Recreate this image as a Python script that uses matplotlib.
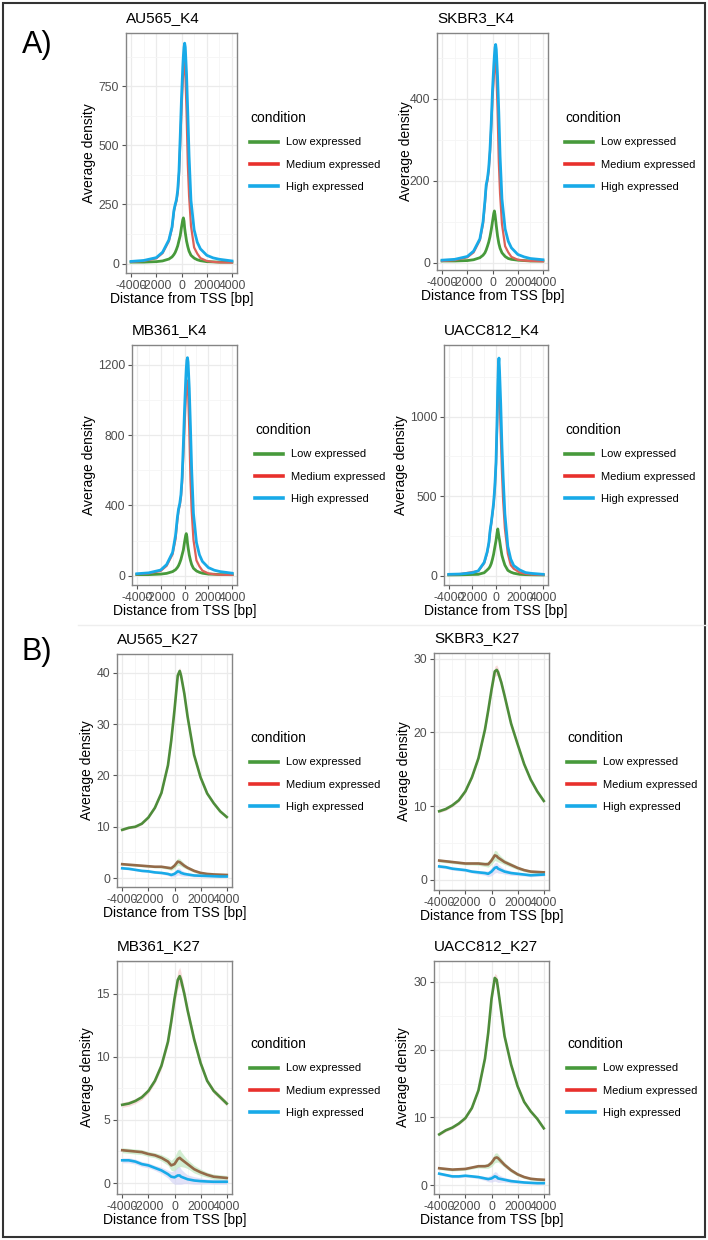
import matplotlib.pyplot as plt
from matplotlib.lines import Line2D
from matplotlib.patches import Rectangle

plt.rcParams['font.family'] = ['Liberation Sans', 'DejaVu Sans']
plt.rcParams['axes.unicode_minus'] = False

W, H = 708, 1240

# ---- H3K4 profiles (Average density vs distance from TSS) ----
x_k4 = [-4000, -3000, -2000, -1500, -1000, -750, -600, -500, -400, -300, -200, -100, 0,
        100, 150, 200, 250, 300, 400, 500, 600, 750, 1000, 1250, 1500, 2000, 2500, 3000, 4000]

au565_k4_low = [6, 6, 8, 11, 19, 28, 38, 47, 60, 75, 97, 118, 154,
                185, 193, 180, 150, 130, 95, 71, 52, 35, 23, 16, 12, 8, 7, 6, 6]
au565_k4_med = [7, 11, 22, 44, 95, 150, 220, 245, 265, 300, 375, 510, 650,
                770, 820, 850, 858, 810, 645, 420, 287, 160, 68, 42, 23, 11, 7, 5, 4]
au565_k4_high = [9, 13, 25, 48, 100, 155, 225, 250, 270, 310, 390, 540, 700,
                 830, 880, 915, 932, 915, 800, 635, 455, 267, 143, 90, 62, 35, 24, 18, 11]

skbr3_k4_low = [4, 4, 5, 7, 12, 18, 24, 31, 40, 50, 63, 80, 100,
                120, 126, 117, 104, 90, 65, 47, 35, 24, 15, 10, 8, 6, 5, 4, 4]
skbr3_k4_med = [4, 6, 13, 25, 55, 95, 145, 185, 200, 225, 268, 330, 400,
                450, 475, 495, 497, 470, 375, 245, 168, 94, 40, 25, 14, 7, 5, 4, 3]
skbr3_k4_high = [6, 8, 15, 28, 58, 100, 150, 190, 205, 230, 275, 340, 420,
                 480, 505, 525, 532, 520, 455, 365, 260, 155, 82, 52, 36, 20, 14, 10, 7]

mb361_k4_low = [7, 7, 10, 14, 24, 35, 47, 58, 74, 93, 120, 146, 190,
                230, 240, 223, 186, 161, 118, 88, 64, 43, 28, 20, 15, 10, 9, 7, 7]
mb361_k4_med = [9, 14, 28, 57, 123, 210, 315, 370, 400, 445, 530, 680, 850,
                1000, 1060, 1100, 1110, 1050, 835, 545, 370, 205, 88, 54, 30, 14, 9, 6, 5]
mb361_k4_high = [12, 17, 33, 64, 133, 230, 330, 380, 410, 460, 560, 740, 940,
                 1110, 1180, 1225, 1240, 1215, 1065, 845, 605, 355, 190, 120, 82, 47, 32, 24, 15]

uacc812_k4_low = [6, 7, 9, 10, 20, 37, 48, 60, 78, 105, 137, 180, 221,
                  275, 295, 270, 245, 225, 175, 130, 103, 68, 35, 24, 17, 10, 8, 7, 6]
uacc812_k4_med = [8, 12, 24, 30, 80, 145, 205, 280, 330, 390, 450, 550, 700,
                  950, 1100, 1240, 1274, 1140, 890, 660, 480, 300, 140, 68, 45, 22, 13, 9, 6]
uacc812_k4_high = [10, 12, 20, 32, 85, 150, 210, 285, 335, 395, 460, 560, 710,
                   1010, 1190, 1320, 1368, 1290, 1080, 820, 630, 390, 185, 105, 65, 38, 21, 16, 10]

# ---- H3K27 profiles ----
x_k27 = [-4000, -3500, -3000, -2500, -2000, -1500, -1000, -500, -250, 0, 250, 400, 500,
         750, 1000, 1500, 2000, 2500, 3000, 3500, 4000]
se_k27 = [0.2, 0.2, 0.2, 0.2, 0.2, 0.2, 0.25, 0.3, 0.4, 0.55, 0.7, 0.7, 0.6,
          0.45, 0.35, 0.3, 0.25, 0.2, 0.2, 0.2, 0.2]

au565_k27_low = [9.4, 9.8, 10.0, 10.6, 11.8, 13.7, 16.6, 22.0, 26.8, 32.8, 39.5, 40.4, 39.5,
                 36.0, 31.5, 24.0, 19.6, 16.5, 14.6, 13.0, 11.9]
au565_k27_med = [2.7, 2.6, 2.5, 2.4, 2.3, 2.2, 2.2, 2.0, 1.9, 2.4, 3.2, 3.1, 2.9,
                 2.4, 2.0, 1.4, 1.0, 0.8, 0.7, 0.65, 0.6]
au565_k27_high = [1.9, 1.8, 1.6, 1.4, 1.3, 1.1, 1.0, 0.8, 0.6, 0.8, 1.3, 1.2, 1.0,
                  0.8, 0.7, 0.5, 0.45, 0.4, 0.35, 0.3, 0.3]

skbr3_k27_low = [9.3, 9.6, 10.1, 10.8, 12.0, 13.9, 16.5, 20.4, 23.0, 25.8, 28.3, 28.5, 28.2,
                 26.8, 25.0, 21.2, 18.4, 15.7, 13.6, 12.0, 10.7]
skbr3_k27_med = [2.6, 2.5, 2.4, 2.3, 2.2, 2.2, 2.2, 2.1, 2.1, 2.6, 3.3, 3.2, 3.0,
                 2.7, 2.4, 2.0, 1.6, 1.3, 1.1, 1.05, 1.0]
skbr3_k27_high = [1.8, 1.7, 1.5, 1.4, 1.3, 1.1, 1.0, 0.9, 0.8, 1.1, 1.6, 1.7, 1.5,
                  1.3, 1.1, 0.9, 0.8, 0.7, 0.6, 0.65, 0.7]

mb361_k27_low = [6.2, 6.3, 6.5, 6.8, 7.3, 8.1, 9.3, 11.2, 12.8, 14.6, 16.1, 16.4, 16.1,
                 15.0, 13.7, 11.4, 9.5, 8.1, 7.3, 6.8, 6.3]
mb361_k27_med = [2.6, 2.55, 2.5, 2.45, 2.3, 2.2, 2.0, 1.7, 1.4, 1.5, 1.9, 2.0, 1.9,
                 1.7, 1.5, 1.1, 0.85, 0.65, 0.5, 0.45, 0.4]
mb361_k27_high = [1.8, 1.8, 1.7, 1.5, 1.4, 1.2, 1.0, 0.7, 0.5, 0.45, 0.6, 0.6, 0.5,
                  0.4, 0.3, 0.2, 0.15, 0.12, 0.1, 0.1, 0.1]

uacc812_k27_low = [7.5, 8.1, 8.5, 9.1, 9.9, 11.4, 14.0, 18.7, 22.5, 27.5, 30.6, 30.3, 29.0,
                   25.5, 22.0, 17.8, 14.6, 12.3, 10.9, 9.8, 8.4]
uacc812_k27_med = [2.5, 2.4, 2.3, 2.35, 2.4, 2.6, 2.8, 2.8, 2.9, 3.3, 4.0, 4.1, 4.0,
                   3.5, 3.0, 2.2, 1.6, 1.2, 0.95, 0.85, 0.8]
uacc812_k27_high = [1.7, 1.5, 1.3, 1.3, 1.4, 1.3, 1.2, 1.0, 0.9, 1.0, 1.3, 1.2, 1.0,
                    0.9, 0.8, 0.6, 0.5, 0.4, 0.35, 0.3, 0.3]

conditions = ['Low expressed', 'Medium expressed', 'High expressed']
c_low, c_med, c_high = '#479A3B', '#E8302C', '#18AAE8'
c_med_line = '#DC6259'
c_med27 = '#936A48'

# title, kind, x, low, med, high, box(px: x0,y0,x1,y1), ylim, yticks, ylabel x(px), legend(x,y px)
panels = [
    ('AU565_K4', 'k4', x_k4, au565_k4_low, au565_k4_med, au565_k4_high,
     (126, 33, 237, 273), (-40, 975), [0, 250, 500, 750], 90, (250, 111)),
    ('SKBR3_K4', 'k4', x_k4, skbr3_k4_low, skbr3_k4_med, skbr3_k4_high,
     (437, 33, 548, 270), (-18, 560), [0, 200, 400], 407, (565, 111)),
    ('MB361_K4', 'k4', x_k4, mb361_k4_low, mb361_k4_med, mb361_k4_high,
     (132, 345, 237, 585), (-52, 1312), [0, 400, 800, 1200], 90, (255, 423)),
    ('UACC812_K4', 'k4', x_k4, uacc812_k4_low, uacc812_k4_med, uacc812_k4_high,
     (444, 345, 548, 585), (-57, 1450), [0, 500, 1000], 402, (565, 423)),
    ('AU565_K27', 'k27', x_k27, au565_k27_low, au565_k27_med, au565_k27_high,
     (117, 654, 232, 887), (-1.75, 43.7), [0, 10, 20, 30, 40], 88, (250, 731)),
    ('SKBR3_K27', 'k27', x_k27, skbr3_k27_low, skbr3_k27_med, skbr3_k27_high,
     (434, 653, 549, 890), (-1.4, 30.8), [0, 10, 20, 30], 405, (567, 731)),
    ('MB361_K27', 'k27', x_k27, mb361_k27_low, mb361_k27_med, mb361_k27_high,
     (117, 961, 232, 1194), (-0.87, 17.6), [0, 5, 10, 15], 88, (250, 1037)),
    ('UACC812_K27', 'k27', x_k27, uacc812_k27_low, uacc812_k27_med, uacc812_k27_high,
     (434, 961, 549, 1194), (-1.3, 33.1), [0, 10, 20, 30], 404, (567, 1037)),
]

fig = plt.figure(figsize=(W / 100, H / 100), dpi=100)

for title, kind, xs, low, med, high, box, ylim, yt, ylx, leg in panels:
    x0, y0, x1, y1 = box
    ax = fig.add_axes([x0 / W, 1 - y1 / H, (x1 - x0) / W, (y1 - y0) / H])
    ax.set_xlim(-4400, 4400)
    ax.set_xticks([-4000, -2000, 0, 2000, 4000])
    ax.set_xticks([-3000, -1000, 1000, 3000], minor=True)
    step = yt[1] - yt[0]
    ax.set_yticks(yt)
    ax.set_yticks([v + step / 2 for v in yt], minor=True)
    ax.set_ylim(*ylim)
    ax.grid(which='major', color='#EBEBEB', lw=0.9)
    ax.grid(which='minor', color='#F5F5F5', lw=0.6)
    ax.set_axisbelow(True)
    ax.tick_params(which='minor', length=0)
    ax.tick_params(which='major', length=3, width=0.8, color='#555555',
                   labelsize=8.8, labelcolor='#4D4D4D', pad=2)
    for s in ax.spines.values():
        s.set_color('#858585')
        s.set_linewidth(1.0)

    if kind == 'k4':
        ax.plot(xs, low, color=c_low, lw=2.0)
        ax.plot(xs, med, color=c_med_line, lw=1.6)
        ax.plot(xs, high, color=c_high, lw=2.0)
    else:
        ax.fill_between(xs, [v - s for v, s in zip(low, se_k27)], [v + s for v, s in zip(low, se_k27)],
                        color='#F4C4C4', alpha=0.6, lw=0)
        ax.fill_between(xs, [v - s for v, s in zip(med, se_k27)], [v + s for v, s in zip(med, se_k27)],
                        color='#BFE8BF', alpha=0.7, lw=0)
        ax.fill_between(xs, [v - s for v, s in zip(high, se_k27)], [v + s for v, s in zip(high, se_k27)],
                        color='#CFCFF4', alpha=0.6, lw=0)
        ax.plot(xs, low, color='#4E8C3A', lw=1.9)
        ax.plot(xs, med, color=c_med27, lw=1.9)
        ax.plot(xs, high, color=c_high, lw=1.9)

    ax.set_title(title, loc='left', fontsize=11, pad=8)
    ax.set_ylabel('Average density', fontsize=10)
    ax.yaxis.set_label_coords((ylx + 6 - x0) / (x1 - x0), 0.5)
    ax.set_xlabel('Distance from TSS [bp]', fontsize=10)
    ax.xaxis.set_label_coords(0.5, -19 / (y1 - y0))

    handles = [Line2D([], [], color=c, lw=2.6) for c in (c_low, c_med, c_high)]
    fig.legend(handles, conditions, loc='upper left',
               bbox_to_anchor=(leg[0] / W, 1 - leg[1] / H), bbox_transform=fig.transFigure,
               frameon=False, title='condition', alignment='left',
               fontsize=8, title_fontsize=10, handlelength=2.5, handletextpad=0.7,
               labelspacing=1.12, borderpad=0, borderaxespad=0)

fig.text(22 / W, 1 - 45 / H, 'A)', fontsize=22, va='center', ha='left')
fig.text(22 / W, 1 - 652 / H, 'B)', fontsize=22, va='center', ha='left')
fig.add_artist(Line2D([78 / W, 1], [1 - 625 / H, 1 - 625 / H], color='#EEEEEE', lw=1))
fig.add_artist(Rectangle((3 / W, 3 / H), (W - 6) / W, (H - 6) / H, transform=fig.transFigure,
                         fill=False, ec='#333333', lw=1.5))

fig.savefig('out.png', dpi=100)
